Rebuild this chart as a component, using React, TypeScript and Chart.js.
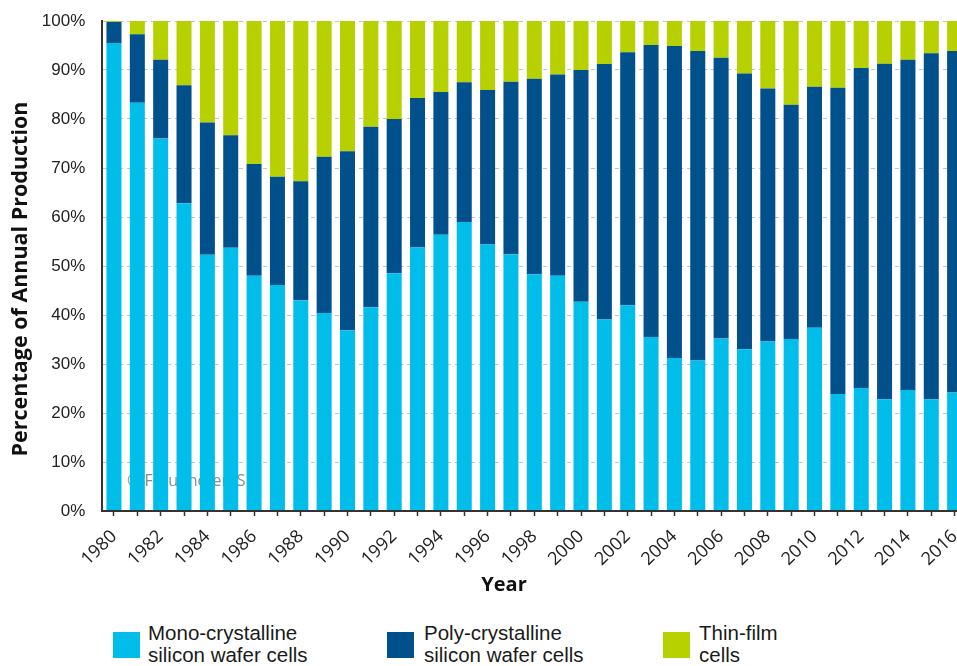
import React, { useEffect, useRef } from 'react';
import { Chart, registerables } from 'chart.js';

Chart.register(...registerables);

const years = [
  '1980', '1981', '1982', '1983', '1984', '1985', '1986', '1987', '1988', '1989',
  '1990', '1991', '1992', '1993', '1994', '1995', '1996', '1997', '1998', '1999',
  '2000', '2001', '2002', '2003', '2004', '2005', '2006', '2007', '2008', '2009',
  '2010', '2011', '2012', '2013', '2014', '2015', '2016',
];

const monoValues = [
  95.5, 83.3, 76.0, 62.8, 52.3, 53.7, 48.0, 46.1, 43.0, 40.4,
  36.9, 41.6, 48.5, 53.8, 56.4, 59.0, 54.4, 52.4, 48.3, 48.0,
  42.7, 39.1, 42.0, 35.5, 31.2, 30.7, 35.2, 33.0, 34.6, 35.1,
  37.4, 23.9, 25.1, 22.8, 24.7, 22.8, 24.2,
];

const polyValues = [
  4.3, 14.0, 16.1, 24.1, 27.0, 23.0, 22.8, 22.1, 24.3, 31.9,
  36.5, 36.8, 31.5, 30.5, 29.1, 28.5, 31.5, 35.2, 39.9, 41.1,
  47.3, 52.1, 51.6, 59.6, 63.7, 63.2, 57.3, 56.3, 51.6, 47.8,
  49.2, 62.5, 65.3, 68.5, 67.4, 70.6, 69.7,
];

const thinValues = [
  0.2, 2.7, 7.9, 13.1, 20.7, 23.3, 29.2, 31.8, 32.7, 27.7,
  26.6, 21.6, 20.0, 15.7, 14.5, 12.5, 14.1, 12.4, 11.8, 10.9,
  10.0, 8.8, 6.4, 4.9, 5.1, 6.1, 7.5, 10.7, 13.8, 17.1,
  13.4, 13.6, 9.6, 8.7, 7.9, 6.6, 6.1,
];

const seriesNames = ['Mono-crystalline silicon wafer cells', 'Poly-crystalline silicon wafer cells', 'Thin-film cells'];
const seriesColors = ['#00BDE9', '#00508C', '#B6D000'];
const legendLines = [
  ['Mono-crystalline', 'silicon wafer cells'],
  ['Poly-crystalline', 'silicon wafer cells'],
  ['Thin-film', 'cells'],
];
const xTitle = 'Year';
const yTitle = 'Percentage of Annual Production';
const watermarkText = '\u00A9 Fraunhofer ISE';

const CANVAS_W = 990;
const CANVAS_H = 600;
const PLOT_TOP = 21;
const PLOT_BOTTOM = 511;
const PLOT_LEFT = 102.3;
const PLOT_RIGHT = 966.3;

export default function App() {
  const ref = useRef<HTMLCanvasElement>(null);

  useEffect(() => {
    if (!ref.current) return;

    const watermark = {
      id: 'watermark',
      beforeDatasetsDraw(chart: any) {
        const ctx = chart.ctx;
        ctx.save();
        ctx.font = '16px "Open Sans"';
        ctx.fillStyle = 'rgba(100,100,100,0.75)';
        ctx.textAlign = 'left';
        ctx.textBaseline = 'middle';
        ctx.fillText(watermarkText, 127, 481);
        ctx.restore();
      },
    };

    const axisTitles = {
      id: 'axisTitles',
      afterDraw(chart: any) {
        const ctx = chart.ctx;
        ctx.save();
        ctx.fillStyle = '#111';
        ctx.textAlign = 'center';
        ctx.textBaseline = 'middle';
        ctx.font = 'bold 20px "Open Sans"';
        ctx.fillText(xTitle, 504, 585);
        ctx.translate(21, 279);
        ctx.rotate(-Math.PI / 2);
        ctx.font = 'bold 21.5px "Open Sans"';
        ctx.fillText(yTitle, 0, 0);
        ctx.restore();
      },
    };

    const chart = new Chart(ref.current, {
      type: 'bar',
      data: {
        labels: years,
        datasets: [
          { label: seriesNames[0], data: monoValues, backgroundColor: seriesColors[0] },
          { label: seriesNames[1], data: polyValues, backgroundColor: seriesColors[1] },
          { label: seriesNames[2], data: thinValues, backgroundColor: seriesColors[2] },
        ],
      },
      plugins: [watermark, axisTitles],
      options: {
        responsive: false,
        animation: false,
        devicePixelRatio: 1,
        layout: { padding: { left: 0, top: PLOT_TOP, right: CANVAS_W - PLOT_RIGHT, bottom: 0 } },
        datasets: { bar: { categoryPercentage: 1, barPercentage: 0.643 } },
        plugins: { legend: { display: false }, tooltip: { enabled: false } },
        scales: {
          x: {
            stacked: true,
            grid: {
              display: true,
              drawOnChartArea: false,
              drawTicks: true,
              tickLength: 5,
              offset: false,
              color: '#333',
              tickColor: '#333',
              tickWidth: 1.5,
            },
            border: { display: true, color: '#333', width: 2, z: 1 },
            ticks: {
              autoSkip: false,
              maxRotation: 44,
              minRotation: 44,
              padding: 10,
              color: '#222',
              font: { family: '"Open Sans", sans-serif', size: 18 },
              callback: (_v: any, i: number) => (i % 2 === 0 ? years[i] : ''),
            },
            afterFit: (s: any) => {
              s.height = CANVAS_H - PLOT_BOTTOM;
            },
          },
          y: {
            stacked: true,
            min: 0,
            max: 100,
            grid: { color: '#c4c4c4', lineWidth: 1, drawTicks: true, tickLength: 17, tickColor: 'rgba(0,0,0,0)' },
            border: { display: true, color: '#333', width: 2, z: 1, dash: [4, 4] },
            ticks: {
              stepSize: 10,
              padding: 0,
              color: '#222',
              font: { family: '"Liberation Sans", Arial, sans-serif', size: 17 },
              callback: (v: any) => v + '%',
            },
            afterFit: (s: any) => {
              s.width = PLOT_LEFT;
            },
          },
        },
      },
    } as any);

    return () => chart.destroy();
  }, []);

  const boxLefts = [113, 387, 663];
  const textLefts = [148, 424, 699];

  return (
    <div style={{ position: 'fixed', left: 0, top: 0, width: 957, height: 666, overflow: 'hidden', background: '#fff' }}>
      <canvas ref={ref} width={CANVAS_W} height={CANVAS_H} style={{ position: 'absolute', left: 0, top: 0, width: CANVAS_W, height: CANVAS_H }} />
      {legendLines.map((lines, i) => (
        <React.Fragment key={i}>
          <div style={{ position: 'absolute', left: boxLefts[i], top: 632, width: 27, height: 26, background: seriesColors[i] }} />
          <div
            style={{
              position: 'absolute',
              left: textLefts[i],
              top: 622,
              font: '20.5px "Liberation Sans", Arial, sans-serif',
              lineHeight: '22px',
              color: '#1a1a1a',
              whiteSpace: 'nowrap',
            }}
          >
            {lines[0]}
            <br />
            {lines[1]}
          </div>
        </React.Fragment>
      ))}
    </div>
  );
}
